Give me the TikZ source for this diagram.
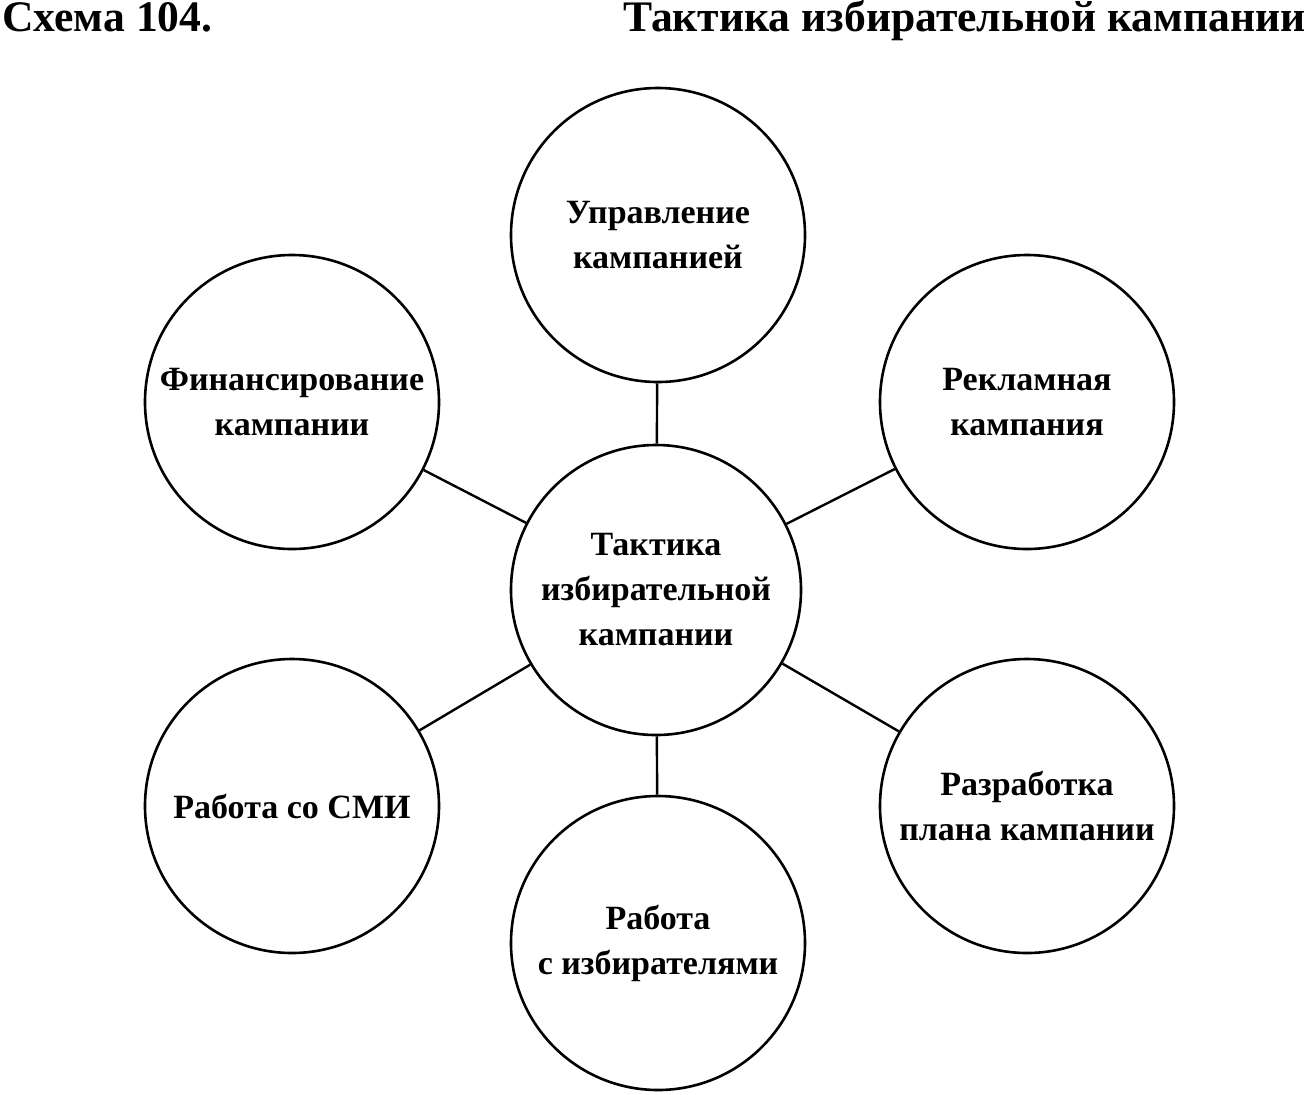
\documentclass[tikz,border=0pt]{standalone}
\usepackage{fontspec}
\setmainfont{Liberation Serif}
\begin{document}
\begin{tikzpicture}[x=0.5pt,y=-0.5pt,
  circ/.style={circle,draw,line width=1.3pt,minimum size=294*0.5pt,inner sep=0pt,align=center,font=\bfseries\fontsize{17}{22.5}\selectfont},
  link/.style={line width=1.2pt}]
\useasboundingbox (0,0) rectangle (1312,1094);
\node[anchor=base west,inner sep=0pt,font=\bfseries\fontsize{21.8}{24}\selectfont] (t1) at (2,31) {Схема 104.};
\node[anchor=base east,inner sep=0pt,font=\bfseries\fontsize{21.8}{24}\selectfont] (t2) at (1306,31) {Тактика избирательной кампании};
\node[circ,minimum size=290*0.5pt] (c) at (656,590) {Тактика\\избирательной\\кампании};
\node[circ] (n1) at (658,235) {Управление\\кампанией};
\node[circ] (n2) at (292,402) {Финансирование\\кампании};
\node[circ] (n3) at (1027,402) {Рекламная\\кампания};
\node[circ] (n4) at (292,806) {Работа со СМИ};
\node[circ] (n5) at (658,943) {Работа\\с избирателями};
\node[circ] (n6) at (1027,806) {Разработка\\плана кампании};
\foreach \n in {n1,n2,n3,n4,n5,n6} \draw[link] (c) -- (\n);
\end{tikzpicture}
\end{document}
